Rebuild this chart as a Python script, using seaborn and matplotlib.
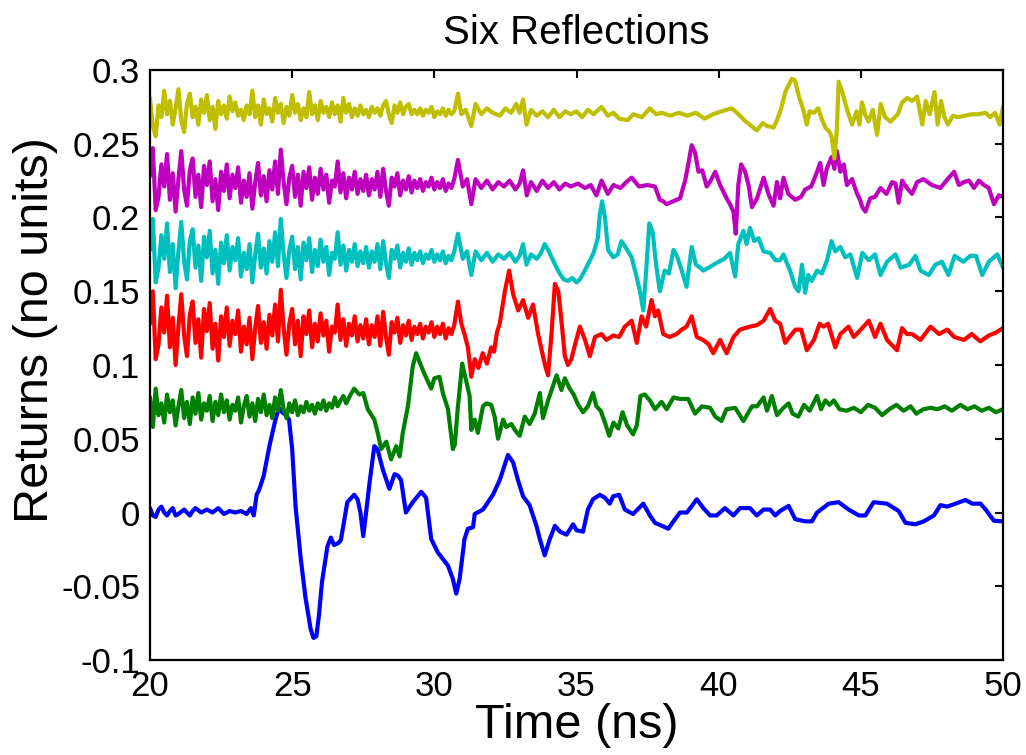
import pandas as pd
import seaborn as sns
import matplotlib.pyplot as plt

# -------------------------
# DATA (time in ns, return values)
# -------------------------
blue = [(20.0,.003),(20.1,-.002),(20.2,-.003),(20.3,.002),(20.4,.004),(20.5,.000),(20.6,-.002),(20.7,.001),
        (20.8,.003),(20.9,-.002),(21.0,-.001),(21.2,.002),(21.4,-.002),(21.5,.001),
        (21.6,.003),(21.8,.000),(22.0,.002),(22.2,.000),(22.4,.003),(22.6,-.001),(22.8,.001),(23.0,.000),
        (23.2,.001),(23.4,-.001),(23.55,.003),(23.65,-.002),(23.75,.012),(23.85,.016),(24.0,.025),(24.2,.045),
        (24.4,.062),(24.53,.071),(24.65,.068),(24.78,.066),(24.89,.063),(25.0,.043),(25.12,.004),(25.3,-.031),
        (25.47,-.058),(25.65,-.079),(25.75,-.085),(25.85,-.084),(25.94,-.070),(26.05,-.047),(26.24,-.023),
        (26.36,-.017),(26.47,-.022),(26.6,-.021),(26.71,-.019),(26.94,.007),(27.18,.012),(27.3,.009),(27.4,.000),
        (27.5,-.016),(27.6,.000),(27.72,.020),(27.89,.045),(28.0,.043),(28.19,.029),(28.42,.016),(28.6,.026),
        (28.72,.025),(28.83,.022),(29.0,.000),(29.24,.007),(29.54,.014),(29.71,.010),(29.89,-.018),(30.12,-.027),
        (30.48,-.036),(30.65,-.045),(30.77,-.055),(30.89,-.045),(31.06,-.018),(31.18,-.011),(31.36,-.010),
        (31.42,-.001),(31.71,.002),(32.06,.012),(32.3,.022),(32.59,.039),(32.77,.034),(32.94,.022),(33.12,.011),
        (33.35,.005),(33.59,-.009),(33.71,-.018),(33.88,-.029),(34.06,-.018),(34.24,-.009),(34.42,-.013),
        (34.65,-.015),(34.88,-.008),(35.0,-.012),(35.23,-.013),(35.4,.002),(35.58,.009),(35.82,.012),(36.0,.010),
        (36.17,.006),(36.29,.011),(36.5,.012),(36.7,.002),(36.99,-.001),(37.35,.006),(37.58,-.002),(37.76,-.007),
        (38.0,-.009),(38.23,-.011),(38.41,-.006),(38.64,.000),(38.88,.000),(39.0,.003),(39.23,.009),(39.46,.003),
        (39.7,-.002),(39.93,-.002),(40.22,.003),(40.52,-.002),(40.75,.003),(41.1,.003),(41.34,-.002),(41.58,.002),
        (41.81,.002),(41.99,-.002),(42.16,.001),(42.46,.0045),(42.69,-.0045),(43.04,-.006),(43.28,-.006),
        (43.46,.000),(43.87,.006),(44.22,.007),(44.57,.002),(44.93,-.002),(45.16,-.002),(45.45,.007),(45.92,.006),
        (46.33,.001),(46.57,-.007),(46.92,-.008),(47.21,-.006),(47.57,-.002),(47.8,.005),(48.04,.004),(48.33,.006),
        (48.68,.0085),(48.92,.006),(49.21,.006),(49.39,.002),(49.68,-.0056),(50.0,-.006)]

green = [(20.0,.078),(20.1,.058),(20.2,.084),(20.3,.066),(20.4,.074),(20.5,.061),(20.6,.080),(20.7,.068),
         (20.8,.076),(20.9,.059),(21.0,.072),(21.1,.083),(21.2,.064),(21.3,.075),(21.4,.060),(21.5,.078),
         (21.6,.067),(21.7,.081),(21.8,.063),(21.9,.074),(22.0,.069),(22.1,.079),(22.2,.062),(22.3,.075),
         (22.4,.066),(22.5,.080),(22.6,.068),(22.7,.076),(22.8,.063),(22.9,.073),(23.0,.069),(23.1,.078),
         (23.2,.061),(23.3,.072),(23.4,.079),(23.5,.065),(23.6,.074),(23.7,.062),(23.8,.077),(23.9,.068),
         (24.0,.080),(24.1,.066),(24.2,.073),(24.3,.064),(24.4,.078),(24.5,.069),(24.6,.083),(24.7,.070),
         (24.8,.064),(24.9,.074),(25.0,.068),(25.1,.076),(25.2,.066),(25.3,.072),(25.4,.068),(25.5,.075),
         (25.6,.069),(25.7,.073),(25.8,.067),(25.9,.074),(26.0,.070),(26.1,.076),(26.2,.069),(26.3,.074),
         (26.4,.071),(26.5,.078),(26.6,.072),(26.7,.076),(26.8,.079),(26.9,.074),(27.0,.078),(27.18,.084),
         (27.36,.080),(27.5,.081),
         (27.66,.070),(27.89,.063),(28.01,.054),(28.13,.043),(28.31,.048),(28.48,.036),(28.66,.045),(28.78,.038),
         (28.89,.054),(29.07,.072),(29.24,.099),(29.36,.108),(29.48,.102),(29.65,.094),(29.89,.084),(30.0,.091),
         (30.18,.092),(30.3,.081),(30.48,.070),(30.65,.043),(30.72,.046),(30.83,.072),(30.98,.101),(31.12,.089),
         (31.24,.079),(31.3,.056),(31.42,.063),(31.53,.054),(31.71,.072),(31.83,.074),(32.0,.073),(32.12,.065),
         (32.24,.050),(32.42,.063),(32.53,.058),(32.71,.060),(32.83,.056),(33.0,.052),(33.18,.065),(33.35,.060),
         (33.53,.067),(33.71,.081),(33.82,.064),(34.0,.076),(34.3,.093),(34.47,.083),(34.59,.091),(34.76,.084),
         (34.9,.080),(35.06,.073),(35.23,.068),(35.4,.072),(35.58,.081),(35.7,.072),(35.85,.069),(36.0,.061),
         (36.15,.052),(36.3,.061),(36.47,.057),(36.62,.068),(36.78,.059),(36.99,.053),(37.12,.059),(37.25,.079),
         (37.4,.080),(37.58,.076),(37.76,.070),(37.99,.075),(38.17,.070),(38.41,.078),(38.64,.077),(38.93,.077),
         (39.17,.067),(39.41,.072),(39.7,.071),(39.88,.065),(40.1,.062),(40.27,.070),(40.58,.071),(40.87,.062),
         (41.17,.072),(41.35,.072),(41.58,.078),(41.7,.069),(41.87,.079),(42.05,.066),(42.28,.071),(42.46,.074),
         (42.6,.067),(42.8,.065),(43.0,.073),(43.2,.069),(43.46,.079),(43.6,.070),(43.75,.076),(43.9,.073),
         (44.05,.076),(44.25,.070),(44.5,.069),(44.75,.071),(45.0,.068),(45.25,.073),(45.5,.071),(45.75,.066),
         (46.0,.070),(46.25,.073),(46.5,.069),(46.75,.072),(46.95,.067),(47.2,.070),(47.45,.071),(47.7,.070),
         (47.95,.072),(48.2,.069),(48.5,.073),(48.75,.070),(49.0,.072),(49.25,.069),(49.5,.071),(49.75,.068),
         (50.0,.070)]

red = [(20.0,.128),(20.1,.150),(20.2,.104),(20.3,.114),(20.4,.139),(20.5,.122),(20.6,.147),(20.7,.112),
       (20.8,.132),(20.9,.100),(21.0,.126),(21.1,.148),(21.2,.120),(21.3,.106),(21.4,.134),(21.5,.143),
       (21.6,.115),(21.7,.131),(21.8,.105),(21.9,.138),(22.0,.123),(22.1,.142),(22.2,.111),(22.3,.128),
       (22.4,.103),(22.5,.133),(22.6,.119),(22.7,.139),(22.8,.113),(22.9,.130),(23.0,.121),(23.1,.137),
       (23.2,.109),(23.3,.126),(23.4,.114),(23.5,.132),(23.6,.104),(23.7,.125),(23.8,.140),(23.9,.115),
       (24.0,.129),(24.1,.111),(24.2,.134),(24.3,.120),(24.4,.141),(24.5,.116),(24.6,.151),(24.7,.125),
       (24.8,.107),(24.9,.128),(25.0,.138),(25.1,.114),(25.2,.130),(25.3,.106),(25.4,.133),(25.5,.121),
       (25.6,.137),(25.7,.112),(25.8,.128),(25.9,.116),(26.0,.135),(26.1,.120),(26.2,.130),(26.3,.109),
       (26.4,.126),(26.5,.122),(26.6,.141),(26.7,.117),(26.8,.131),(26.9,.113),(27.0,.128),(27.1,.120),
       (27.2,.133),(27.3,.116),(27.4,.127),(27.5,.118),(27.6,.131),(27.7,.114),(27.8,.127),(27.9,.119),
       (28.0,.133),(28.1,.113),(28.2,.136),(28.3,.119),(28.4,.107),(28.5,.129),(28.6,.122),(28.7,.132),
       (28.8,.115),(28.9,.127),(29.0,.120),(29.1,.130),(29.2,.117),(29.3,.126),(29.4,.121),(29.5,.128),
       (29.6,.118),(29.7,.126),(29.8,.122),(29.9,.129),(30.0,.119),(30.1,.126),(30.2,.121),(30.3,.128),
       (30.4,.118),(30.5,.125),(30.6,.121),(30.7,.127),(30.83,.143),
       (30.95,.128),(31.06,.121),(31.18,.112),(31.3,.092),(31.42,.104),(31.55,.098),(31.7,.108),(31.85,.101),
       (32.0,.112),(32.1,.109),(32.2,.122),(32.3,.128),(32.48,.150),(32.63,.164),(32.77,.148),(32.95,.137),
       (33.12,.144),(33.3,.132),(33.47,.141),(33.65,.121),(33.82,.106),(33.92,.098),(34.0,.093),(34.12,.121),
       (34.24,.155),(34.36,.150),(34.48,.128),(34.59,.106),(34.7,.100),(34.82,.104),(34.95,.114),(35.12,.126),
       (35.3,.117),(35.47,.106),(35.65,.119),(35.88,.121),(36.05,.117),(36.29,.120),(36.5,.119),(36.7,.126),
       (36.94,.130),(37.12,.115),(37.29,.133),(37.45,.126),(37.64,.144),(37.76,.133),(37.87,.137),(38.05,.121),
       (38.28,.119),(38.52,.121),(38.7,.124),(38.87,.126),(39.05,.133),(39.23,.119),(39.45,.117),(39.65,.114),
       (39.81,.108),(40.05,.117),(40.28,.108),(40.52,.119),(40.75,.124),(41.1,.126),(41.34,.127),(41.58,.130),
       (41.81,.138),(41.99,.130),(42.16,.128),(42.34,.115),(42.45,.118),(42.7,.124),(42.9,.124),(43.1,.110),
       (43.35,.117),(43.55,.128),(43.69,.126),(43.85,.128),(44.1,.112),(44.28,.121),(44.57,.126),(44.75,.119),
       (45.0,.124),(45.28,.130),(45.5,.119),(45.69,.128),(45.92,.117),(46.27,.110),(46.45,.125),(46.62,.121),
       (46.8,.121),(47.1,.117),(47.45,.126),(47.75,.121),(48.04,.124),(48.28,.119),(48.63,.117),(48.9,.121),
       (49.2,.116),(49.5,.120),(49.75,.122),(50.0,.125)]

cyan = [(20.0,.178),(20.1,.199),(20.2,.156),(20.3,.166),(20.4,.188),(20.5,.172),(20.6,.196),(20.7,.163),
        (20.8,.182),(20.9,.152),(21.0,.177),(21.1,.197),(21.2,.170),(21.3,.158),(21.4,.184),(21.5,.192),
        (21.6,.166),(21.7,.181),(21.8,.157),(21.9,.187),(22.0,.173),(22.1,.191),(22.2,.162),(22.3,.178),
        (22.4,.155),(22.5,.183),(22.6,.169),(22.7,.188),(22.8,.164),(22.9,.180),(23.0,.171),(23.1,.186),
        (23.2,.160),(23.3,.176),(23.4,.165),(23.5,.182),(23.6,.156),(23.7,.175),(23.8,.189),(23.9,.166),
        (24.0,.179),(24.1,.162),(24.2,.184),(24.3,.170),(24.4,.190),(24.5,.167),(24.6,.199),(24.7,.175),
        (24.8,.159),(24.9,.178),(25.0,.187),(25.1,.165),(25.2,.180),(25.3,.158),(25.4,.183),(25.5,.171),
        (25.6,.186),(25.7,.163),(25.8,.178),(25.9,.167),(26.0,.185),(26.1,.170),(26.2,.180),(26.3,.161),
        (26.4,.176),(26.5,.172),(26.6,.190),(26.7,.168),(26.8,.181),(26.9,.164),(27.0,.178),(27.1,.170),
        (27.2,.182),(27.3,.167),(27.4,.177),(27.5,.169),(27.6,.180),(27.7,.166),(27.8,.177),(27.9,.170),
        (28.0,.182),(28.1,.165),(28.2,.184),(28.3,.169),(28.4,.159),(28.5,.178),(28.6,.172),(28.7,.181),
        (28.8,.166),(28.9,.176),(29.0,.170),(29.1,.179),(29.2,.168),(29.3,.176),(29.4,.171),(29.5,.177),
        (29.6,.169),(29.7,.175),(29.8,.172),(29.9,.178),(30.0,.170),(30.1,.175),(30.2,.171),(30.3,.177),
        (30.4,.169),(30.5,.174),(30.6,.171),(30.7,.177),(30.83,.189),
        (31.0,.172),(31.15,.177),(31.3,.161),(31.45,.177),(31.65,.171),(31.85,.176),(32.05,.170),(32.25,.175),
        (32.45,.172),(32.65,.176),(32.85,.170),(33.0,.174),(33.12,.182),(33.24,.168),(33.4,.175),(33.6,.172),
        (33.75,.176),(33.88,.182),(34.0,.178),(34.15,.172),(34.3,.166),(34.41,.162),(34.55,.158),(34.7,.157),
        (34.85,.159),(35.0,.156),(35.12,.158),(35.29,.164),(35.45,.170),(35.6,.176),(35.75,.186),(35.82,.202),
        (35.9,.211),(36.0,.200),(36.11,.178),(36.29,.173),(36.45,.175),(36.58,.184),(36.75,.179),(36.94,.173),
        (37.11,.160),(37.23,.150),(37.35,.137),(37.45,.164),(37.56,.196),(37.68,.190),(37.8,.168),(37.93,.150),
        (38.1,.164),(38.25,.162),(38.41,.178),(38.55,.173),(38.7,.164),(38.87,.153),(39.05,.180),(39.2,.168),
        (39.35,.166),(39.46,.164),(39.65,.166),(39.82,.168),(40.0,.170),(40.2,.172),(40.4,.176),(40.58,.160),
        (40.69,.182),(40.87,.191),(40.98,.182),(41.1,.193),(41.25,.184),(41.4,.186),(41.58,.177),(41.81,.176),
        (42.0,.171),(42.16,.171),(42.28,.175),(42.4,.169),(42.51,.164),(42.69,.153),(42.81,.150),(42.93,.168),
        (43.04,.149),(43.15,.161),(43.27,.157),(43.46,.164),(43.63,.162),(43.81,.171),(43.97,.184),(44.1,.177),
        (44.28,.180),(44.45,.173),(44.63,.175),(44.87,.159),(45.05,.176),(45.28,.171),(45.5,.175),(45.69,.161),
        (45.92,.170),(46.22,.175),(46.4,.166),(46.7,.168),(46.92,.174),(47.1,.164),(47.39,.161),(47.62,.168),
        (47.85,.170),(48.08,.161),(48.3,.174),(48.6,.170),(48.85,.174),(49.05,.174),(49.27,.161),(49.5,.170),
        (49.8,.175),(50.0,.166)]

magenta = [(20.0,.228),(20.1,.247),(20.2,.205),(20.3,.214),(20.4,.236),(20.5,.221),(20.6,.243),(20.7,.212),
           (20.8,.230),(20.9,.204),(21.0,.226),(21.1,.245),(21.2,.219),(21.3,.208),(21.4,.232),(21.5,.240),
           (21.6,.214),(21.7,.229),(21.8,.207),(21.9,.235),(22.0,.222),(22.1,.238),(22.2,.211),(22.3,.226),
           (22.4,.205),(22.5,.231),(22.6,.218),(22.7,.236),(22.8,.213),(22.9,.229),(23.0,.220),(23.1,.234),
           (23.2,.210),(23.3,.225),(23.4,.214),(23.5,.230),(23.6,.206),(23.7,.224),(23.8,.237),(23.9,.215),
           (24.0,.228),(24.1,.211),(24.2,.232),(24.3,.219),(24.4,.238),(24.5,.216),(24.6,.246),(24.7,.224),
           (24.8,.209),(24.9,.227),(25.0,.235),(25.1,.214),(25.2,.229),(25.3,.208),(25.4,.231),(25.5,.220),
           (25.6,.234),(25.7,.212),(25.8,.227),(25.9,.216),(26.0,.233),(26.1,.219),(26.2,.229),(26.3,.210),
           (26.4,.225),(26.5,.221),(26.6,.238),(26.7,.217),(26.8,.230),(26.9,.213),(27.0,.227),(27.1,.219),
           (27.2,.231),(27.3,.216),(27.4,.226),(27.5,.218),(27.6,.229),(27.7,.215),(27.8,.226),(27.9,.219),
           (28.0,.231),(28.1,.214),(28.2,.233),(28.3,.218),(28.4,.208),(28.5,.227),(28.6,.221),(28.7,.230),
           (28.8,.215),(28.9,.225),(29.0,.219),(29.1,.228),(29.2,.217),(29.3,.225),(29.4,.220),(29.5,.226),
           (29.6,.218),(29.7,.224),(29.8,.221),(29.9,.227),(30.0,.219),(30.1,.224),(30.2,.220),(30.3,.226),
           (30.4,.218),(30.5,.223),(30.6,.220),(30.7,.226),(30.83,.239),
           (31.0,.221),(31.15,.226),(31.3,.209),(31.45,.226),(31.65,.220),(31.85,.225),(32.05,.219),(32.25,.224),
           (32.45,.221),(32.65,.225),(32.85,.219),(33.0,.223),(33.12,.232),(33.25,.215),(33.4,.224),(33.6,.218),
           (33.8,.225),(34.0,.220),(34.2,.224),(34.4,.219),(34.6,.223),(34.8,.221),(35.05,.223),(35.3,.220),
           (35.5,.222),(35.7,.215),(35.88,.225),(36.1,.216),(36.3,.222),(36.55,.220),(36.75,.224),(36.94,.227),
           (37.2,.221),(37.5,.222),(37.76,.221),(37.93,.212),(38.05,.211),(38.17,.209),(38.4,.211),(38.64,.213),
           (38.82,.225),(38.93,.236),(39.05,.249),(39.17,.244),(39.29,.231),(39.42,.232),(39.58,.221),(39.72,.225),
           (39.88,.231),(40.05,.222),(40.28,.213),(40.4,.209),(40.52,.204),(40.6,.189),(40.69,.222),(40.79,.236),
           (40.93,.231),(41.05,.222),(41.17,.207),(41.35,.213),(41.58,.227),(41.75,.216),(41.93,.208),(42.05,.224),
           (42.16,.213),(42.28,.227),(42.45,.216),(42.69,.212),(42.9,.214),(43.04,.219),(43.25,.221),(43.34,.225),
           (43.46,.231),(43.57,.237),(43.69,.222),(43.8,.233),(43.97,.241),(44.07,.233),(44.16,.245),(44.28,.231),
           (44.4,.236),(44.51,.222),(44.69,.226),(44.87,.216),(44.97,.212),(45.05,.207),(45.16,.204),(45.33,.213),
           (45.5,.214),(45.69,.220),(45.9,.216),(46.1,.224),(46.22,.223),(46.33,.210),(46.45,.225),(46.62,.220),
           (46.8,.216),(46.98,.224),(47.2,.226),(47.5,.222),(47.8,.220),(48.05,.226),(48.28,.231),(48.45,.222),
           (48.62,.224),(48.8,.225),(48.98,.220),(49.15,.225),(49.33,.222),(49.5,.220),(49.68,.209),(49.85,.215),
           (50.0,.214)]

yellow = [(20.0,.281),(20.1,.262),(20.2,.255),(20.3,.276),(20.4,.268),(20.5,.286),(20.6,.270),(20.7,.279),
          (20.8,.263),(20.9,.274),(21.0,.287),(21.1,.266),(21.2,.258),(21.3,.277),(21.4,.284),(21.5,.268),
          (21.6,.275),(21.7,.263),(21.8,.280),(21.9,.271),(22.0,.283),(22.1,.266),(22.2,.275),(22.3,.260),
          (22.4,.279),(22.5,.270),(22.6,.276),(22.7,.267),(22.8,.282),(22.9,.272),(23.0,.278),(23.1,.269),
          (23.2,.273),(23.3,.266),(23.4,.276),(23.5,.270),(23.6,.286),(23.7,.268),(23.8,.276),(23.9,.263),
          (24.0,.280),(24.1,.270),(24.2,.274),(24.3,.265),(24.4,.281),(24.5,.271),(24.6,.277),(24.7,.264),
          (24.8,.275),(24.9,.269),(25.0,.283),(25.1,.271),(25.2,.277),(25.3,.266),(25.4,.274),(25.5,.268),
          (25.6,.285),(25.7,.270),(25.8,.276),(25.9,.266),(26.0,.279),(26.1,.271),(26.2,.275),(26.3,.268),
          (26.4,.278),(26.5,.270),(26.6,.276),(26.7,.265),(26.8,.281),(26.9,.271),(27.0,.277),(27.1,.268),
          (27.2,.274),(27.3,.269),(27.4,.276),(27.5,.270),(27.6,.273),(27.7,.268),(27.8,.275),(27.9,.271),
          (28.0,.274),(28.1,.269),(28.2,.276),(28.3,.279),(28.4,.270),(28.5,.264),(28.6,.276),(28.7,.271),
          (28.8,.278),(28.9,.270),(29.0,.275),(29.1,.277),(29.2,.270),(29.3,.273),(29.4,.270),(29.5,.274),
          (29.6,.269),(29.7,.273),(29.8,.271),(29.9,.275),(30.0,.268),(30.1,.272),(30.2,.270),(30.3,.274),
          (30.4,.269),(30.5,.273),(30.6,.270),(30.7,.272),(30.83,.284),
          (30.95,.270),(31.1,.273),(31.3,.262),(31.45,.277),(31.65,.270),(31.85,.274),(32.05,.271),(32.3,.269),
          (32.5,.274),(32.7,.271),(32.88,.277),(33.0,.271),(33.12,.280),(33.24,.263),(33.4,.273),(33.6,.269),
          (33.8,.272),(34.0,.268),(34.2,.273),(34.4,.268),(34.6,.272),(34.8,.270),(35.0,.272),(35.2,.268),
          (35.4,.273),(35.6,.270),(35.88,.275),(36.1,.269),(36.3,.271),(36.5,.267),(36.8,.266),(37.0,.270),
          (37.3,.268),(37.58,.274),(37.8,.270),(38.0,.271),(38.3,.269),(38.6,.271),(38.9,.269),(39.2,.271),
          (39.5,.267),(39.8,.270),(40.1,.272),(40.46,.274),(40.7,.270),(40.95,.265),(41.15,.262),(41.34,.259),
          (41.55,.264),(41.7,.262),(41.93,.261),(42.05,.266),(42.2,.274),(42.34,.285),(42.57,.294),(42.68,.293),
          (42.81,.283),(42.99,.272),(43.1,.263),(43.2,.272),(43.35,.271),(43.5,.274),(43.6,.268),(43.75,.261),
          (43.9,.258),(43.98,.254),(44.07,.240),(44.15,.258),(44.22,.292),(44.35,.285),(44.5,.274),(44.69,.263),
          (44.85,.272),(44.95,.263),(45.04,.278),(45.15,.270),(45.27,.265),(45.42,.273),(45.57,.256),(45.7,.277),
          (45.85,.268),(46.05,.265),(46.3,.270),(46.45,.278),(46.63,.281),(46.8,.279),(46.98,.282),(47.16,.263),
          (47.28,.279),(47.42,.270),(47.59,.285),(47.7,.263),(47.82,.279),(47.94,.268),(48.06,.263),(48.24,.269),
          (48.42,.268),(48.65,.269),(48.9,.270),(49.15,.270),(49.38,.271),(49.55,.268),(49.72,.271),(49.88,.263),
          (50.0,.275)]

trace_names = ["blue", "green", "red", "cyan", "magenta", "yellow"]
trace_colors = ["#0000ff", "#008000", "#ff0000", "#00bfbf", "#bf00bf", "#bfbf00"]
x_ticks = [20, 25, 30, 35, 40, 45, 50]
y_ticks = [-0.1, -0.05, 0, 0.05, 0.1, 0.15, 0.2, 0.25, 0.3]
y_tick_labels = ["-0.1", "-0.05", "0", "0.05", "0.1", "0.15", "0.2", "0.25", "0.3"]

# -------------------------
# LONG TABLE FOR SEABORN
# -------------------------
rows = []
for name, pts in zip(trace_names, [blue, green, red, cyan, magenta, yellow]):
    for t, v in pts:
        rows.append({"trace": name, "time": t, "value": v})
df = pd.DataFrame(rows)

# -------------------------
# PLOT
# -------------------------
sns.set_style("white")
plt.rcParams["font.family"] = ["Liberation Sans", "DejaVu Sans"]
plt.rcParams["text.color"] = "black"
plt.rcParams["axes.labelcolor"] = "black"

fig = plt.figure(figsize=(10.26, 7.55), dpi=100)
ax = fig.add_axes([0.1462, 0.1258, 0.8314, 0.7815])

sns.lineplot(data=df, x="time", y="value", hue="trace", hue_order=trace_names,
             palette=trace_colors, estimator=None, linewidth=3.0, legend=False, ax=ax)

ax.set_xlim(20, 50)
ax.set_ylim(-0.1, 0.3)
ax.set_xticks(x_ticks)
ax.set_yticks(y_ticks)
ax.set_yticklabels(y_tick_labels)
ax.tick_params(direction="in", length=6, width=1.5, top=True, right=True,
               labelsize=25, pad=7, colors="black")
for s in ax.spines.values():
    s.set_linewidth(1.6)
    s.set_color("black")

ax.set_title("Six Reflections", fontsize=29, pad=19, color="black")
ax.set_xlabel("Time (ns)", fontsize=35, labelpad=0, color="black")
ax.set_ylabel("Returns (no units)", fontsize=35, color="black")
ax.yaxis.set_label_coords(-0.108, 0.56)

plt.savefig("out.png", dpi=100)
